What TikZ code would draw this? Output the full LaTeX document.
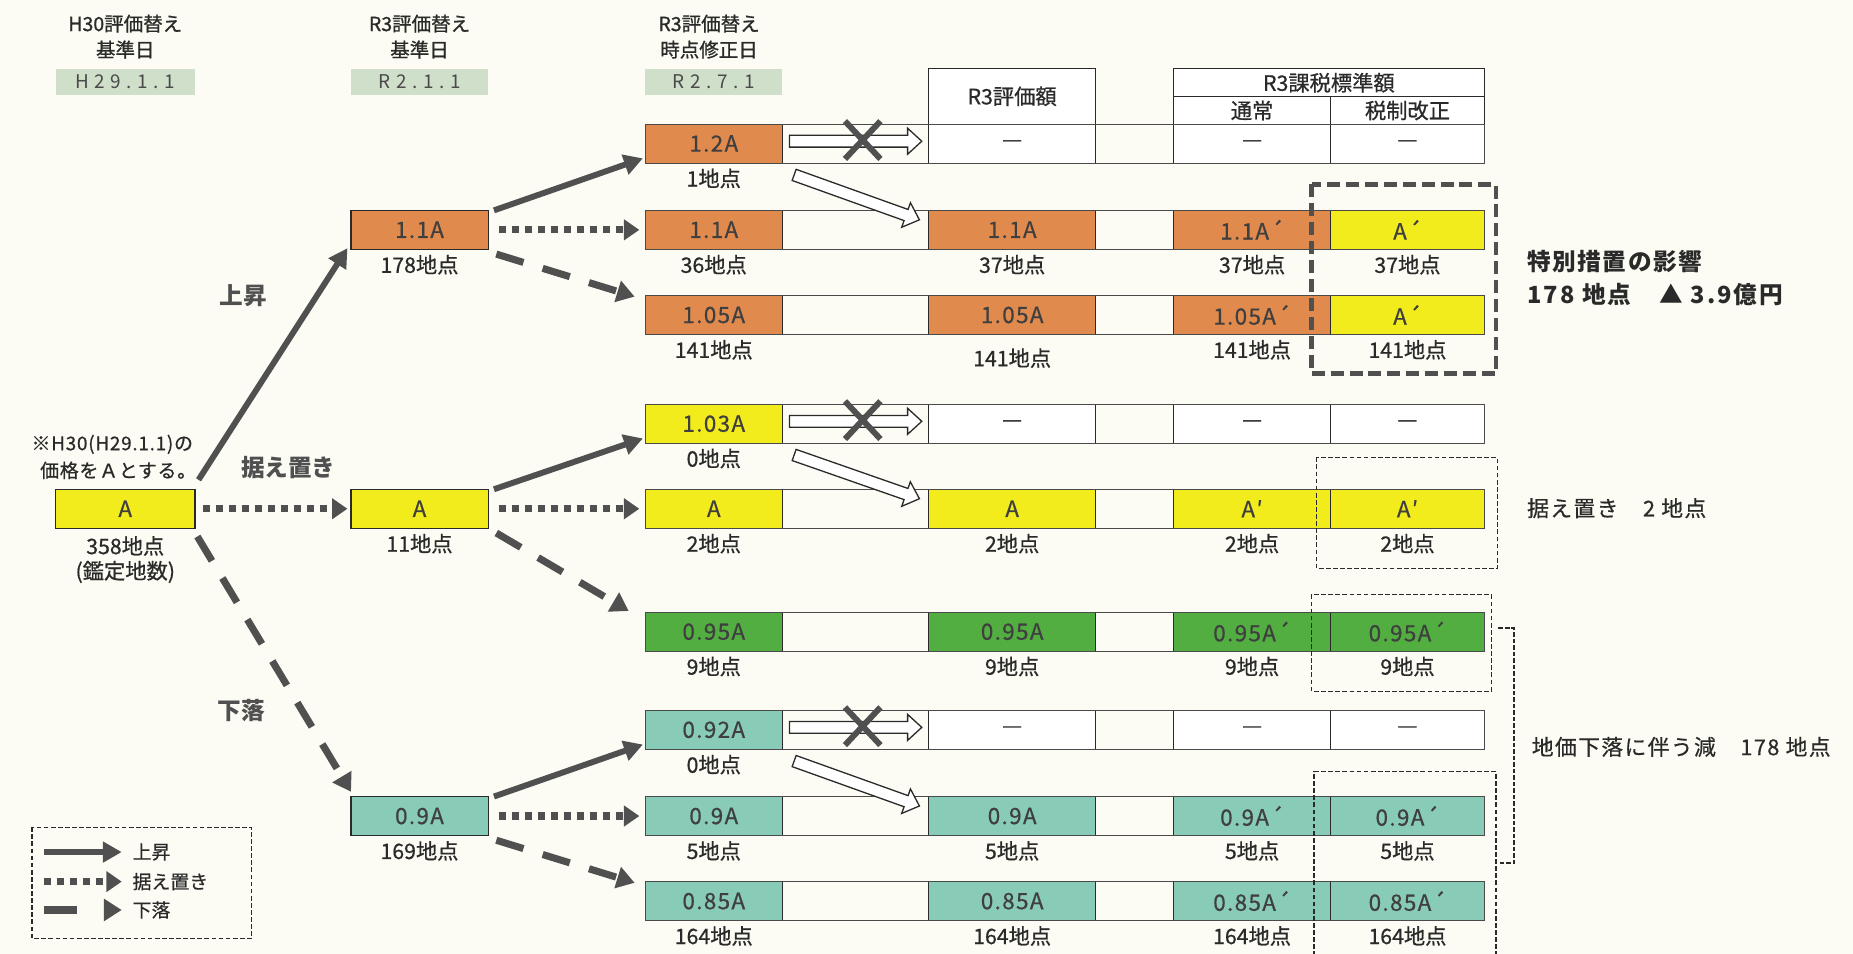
\documentclass[tikz,border=0pt]{standalone}
\usepackage{fontspec}
\setmainfont{Noto Sans CJK JP}
\usetikzlibrary{arrows.meta,calc}
\definecolor{bgc}{HTML}{FCFCF4}
\definecolor{org}{HTML}{E08A4E}
\definecolor{yel}{HTML}{F2EC1C}
\definecolor{grn}{HTML}{52AE41}
\definecolor{tea}{HTML}{88CBB6}
\definecolor{sage}{HTML}{CFDFC9}
\definecolor{arr}{HTML}{505050}
\definecolor{ink}{HTML}{2A2A2A}
\newcommand\fsz[1]{\fontsize{#1}{#1}\selectfont}
\newcommand\cellat[6]{\node[cellbox,fill=#5,minimum width=#4pt,anchor=north west] (#1) at (#2,#3) {#6};}
\newcommand\lblat[3]{\node[lbl] (#1) at ($(#2.south)+(0,13)$) {#3};}
\newcommand\hollowarr[2]{%
  \coordinate (ha-n) at ($(#2)!12pt!(#1)$);
  \draw[hollow] ($(#1)!5pt!90:(#2)$) -- ($(ha-n)!5pt!90:(#2)$) -- ($(ha-n)!11pt!90:(#2)$) -- (#2)
    -- ($(ha-n)!11pt!-90:(#2)$) -- ($(ha-n)!5pt!-90:(#2)$) -- ($(#1)!5pt!-90:(#2)$) -- cycle;}
\begin{document}
\begin{tikzpicture}[x=1pt,y=-1pt,
  cellbox/.style={draw=ink, line width=0.9pt, minimum height=33pt, inner sep=0pt, outer sep=0pt, text=ink!90, font=\fsz{19}\addfontfeature{LetterSpace=6,FakeBold=0.6}},
  lbl/.style={text=ink, font=\fsz{18}\addfontfeature{FakeBold=0.7}, inner sep=0pt},
  hdr/.style={text=ink, font=\fsz{16.5}\addfontfeature{FakeBold=1}, inner sep=0pt},
  datebox/.style={fill=sage, minimum height=22pt, inner sep=0pt, outer sep=0pt, text=ink!85, font=\fsz{16}\addfontfeature{LetterSpace=30}},
  tbl/.style={draw=ink, line width=0.9pt, fill=white, inner sep=0pt, outer sep=0pt, text=ink, font=\fsz{18}\addfontfeature{FakeBold=0.7}},
  strip/.style={draw=ink!85, line width=0.8pt},
  branch/.style={text=arr, font=\fsz{20}\bfseries, inner sep=0pt},
  note/.style={text=ink, anchor=west, inner sep=0pt, font=\fsz{18.5}\addfontfeature{LetterSpace=6,FakeBold=0.5}},
  upar/.style={draw=arr, line width=5pt, -{Triangle[length=16pt,width=17pt]}},
  flatar/.style={draw=arr, line width=6pt, dash pattern=on 6pt off 5pt, -{Triangle[length=13pt,width=17pt]}},
  downar/.style={draw=arr, line width=6pt, dash pattern=on 24pt off 17pt, -{Triangle[length=15pt,width=18pt]}},
  hollow/.style={draw=ink, line width=1.1pt, fill=white, line join=miter},
  xmark/.style={draw=arr, line width=5pt},
  bigdash/.style={draw=arr, line width=4pt, dash pattern=on 11pt off 5pt},
  smalldash/.style={draw=ink, line width=1.1pt, dash pattern=on 4pt off 2pt},
  bracketdash/.style={draw=ink, line width=1.6pt, dash pattern=on 4pt off 1.5pt}
]
\fill[bgc] (0,0) rectangle (1568,807);
\useasboundingbox (0,0) rectangle (1568,807);

% ---------- headers ----------
\node[hdr] (h0a) at (106,20) {H30評価替え};
\node[hdr] (h0b) at (106,42) {基準日};
\node[datebox, minimum width=118pt, anchor=north west] (d0) at (47,58) {H29.1.1};
\node[hdr] (h1a) at (355,20) {R3評価替え};
\node[hdr] (h1b) at (355,42) {基準日};
\node[datebox, minimum width=116pt, anchor=north west] (d1) at (297,58) {R2.1.1};
\node[hdr] (h2a) at (600,20) {R3評価替え};
\node[hdr] (h2b) at (600,42) {時点修正日};
\node[datebox, minimum width=116pt, anchor=north west] (d2) at (546,58) {R2.7.1};

% ---------- table header ----------
\node[tbl, minimum width=141pt, minimum height=47pt, anchor=north west] (th1) at (786,58) {R3評価額};
\node[tbl, minimum width=263pt, minimum height=24pt, anchor=north west] (th2) at (993,58) {R3課税標準額};
\node[tbl, minimum width=133pt, minimum height=23pt, anchor=north west] (th3) at (993,82) {通常};
\node[tbl, minimum width=130pt, minimum height=23pt, anchor=north west] (th4) at (1126,82) {税制改正};

% ---------- left boxes ----------
\cellat{A0}{47}{414}{118}{yel}{A}
\node[lbl] (A0l1) at (106,462) {358地点};
\node[lbl] (A0l2) at (106,484) {(鑑定地数)};
\node[lbl, font=\fsz{16}\addfontfeature{LetterSpace=4,FakeBold=0.7}] (note1) at (95,376) {※H30(H29.1.1)の};
\node[lbl, font=\fsz{16}\addfontfeature{LetterSpace=4,FakeBold=0.7}] (note2) at (100,398) {価格をＡとする。};

\cellat{B1}{297}{178}{116}{org}{1.1A}
\lblat{B1l}{B1}{178地点}
\cellat{A1}{297}{414}{116}{yel}{A}
\lblat{A1l}{A1}{11地点}
\cellat{C1}{297}{674}{116}{tea}{0.9A}
\lblat{C1l}{C1}{169地点}

% ---------- rows ----------
% row 1
\cellat{r1c2}{546}{105}{116}{org}{1.2A}
\cellat{r1c3}{786}{105}{141}{white}{—}
\cellat{r1c4}{993}{105}{133}{white}{—}
\cellat{r1c5}{1126}{105}{130}{white}{—}
\lblat{l1c2}{r1c2}{1地点}
% row 2
\cellat{r2c2}{546}{178}{116}{org}{1.1A}
\cellat{r2c3}{786}{178}{141}{org}{1.1A}
\cellat{r2c4}{993}{178}{133}{org}{1.1A´}
\cellat{r2c5}{1126}{178}{130}{yel}{A´}
\lblat{l2c2}{r2c2}{36地点}
\lblat{l2c3}{r2c3}{37地点}
\lblat{l2c4}{r2c4}{37地点}
\lblat{l2c5}{r2c5}{37地点}
% row 3
\cellat{r3c2}{546}{250}{116}{org}{1.05A}
\cellat{r3c3}{786}{250}{141}{org}{1.05A}
\cellat{r3c4}{993}{250}{133}{org}{1.05A´}
\cellat{r3c5}{1126}{250}{130}{yel}{A´}
\lblat{l3c2}{r3c2}{141地点}
\node[lbl] (l3c3) at ($(r3c3.south)+(0,20)$) {141地点};
\lblat{l3c4}{r3c4}{141地点}
\lblat{l3c5}{r3c5}{141地点}
% row 4
\cellat{r4c2}{546}{342}{116}{yel}{1.03A}
\cellat{r4c3}{786}{342}{141}{white}{—}
\cellat{r4c4}{993}{342}{133}{white}{—}
\cellat{r4c5}{1126}{342}{130}{white}{—}
\lblat{l4c2}{r4c2}{0地点}
% row 5
\cellat{r5c2}{546}{414}{116}{yel}{A}
\cellat{r5c3}{786}{414}{141}{yel}{A}
\cellat{r5c4}{993}{414}{133}{yel}{A′}
\cellat{r5c5}{1126}{414}{130}{yel}{A′}
\lblat{l5c2}{r5c2}{2地点}
\lblat{l5c3}{r5c3}{2地点}
\lblat{l5c4}{r5c4}{2地点}
\lblat{l5c5}{r5c5}{2地点}
% row 6
\cellat{r6c2}{546}{518}{116}{grn}{0.95A}
\cellat{r6c3}{786}{518}{141}{grn}{0.95A}
\cellat{r6c4}{993}{518}{133}{grn}{0.95A´}
\cellat{r6c5}{1126}{518}{130}{grn}{0.95A´}
\lblat{l6c2}{r6c2}{9地点}
\lblat{l6c3}{r6c3}{9地点}
\lblat{l6c4}{r6c4}{9地点}
\lblat{l6c5}{r6c5}{9地点}
% row 7
\cellat{r7c2}{546}{601}{116}{tea}{0.92A}
\cellat{r7c3}{786}{601}{141}{white}{—}
\cellat{r7c4}{993}{601}{133}{white}{—}
\cellat{r7c5}{1126}{601}{130}{white}{—}
\lblat{l7c2}{r7c2}{0地点}
% row 8
\cellat{r8c2}{546}{674}{116}{tea}{0.9A}
\cellat{r8c3}{786}{674}{141}{tea}{0.9A}
\cellat{r8c4}{993}{674}{133}{tea}{0.9A´}
\cellat{r8c5}{1126}{674}{130}{tea}{0.9A´}
\lblat{l8c2}{r8c2}{5地点}
\lblat{l8c3}{r8c3}{5地点}
\lblat{l8c4}{r8c4}{5地点}
\lblat{l8c5}{r8c5}{5地点}
% row 9
\cellat{r9c2}{546}{746}{116}{tea}{0.85A}
\cellat{r9c3}{786}{746}{141}{tea}{0.85A}
\cellat{r9c4}{993}{746}{133}{tea}{0.85A´}
\cellat{r9c5}{1126}{746}{130}{tea}{0.85A´}
\lblat{l9c2}{r9c2}{164地点}
\lblat{l9c3}{r9c3}{164地点}
\lblat{l9c4}{r9c4}{164地点}
\lblat{l9c5}{r9c5}{164地点}

\foreach \r in {1,...,9} {\draw[strip] (r\r c2.north west) rectangle (r\r c5.south east);}

% ---------- branch arrows ----------
\draw[upar] ($(A0.north east)+(3,-8)$) -- ($(B1.south west)+(-3,-1)$);
\draw[flatar] ($(A0.east)+(7,0)$) -- ($(A1.west)+(-3,0)$);
\draw[downar] ($(A0.south east)+(2,7)$) -- ($(C1.north west)+(0,-4)$);

\draw[upar] ($(B1.north east)+(5,0)$) -- ($(r1c2.south west)+(-2,-4)$);
\draw[flatar] ($(B1.east)+(9,0)$) -- ($(r2c2.west)+(-5,0)$);
\draw[downar] ($(B1.south east)+(7,4)$) -- ($(r3c2.north west)+(-9,1)$);

\draw[upar] ($(A1.north east)+(5,0)$) -- ($(r4c2.south west)+(-2,-4)$);
\draw[flatar] ($(A1.east)+(9,0)$) -- ($(r5c2.west)+(-5,0)$);
\draw[downar] ($(A1.south east)+(7,4)$) -- ($(r6c2.north west)+(-14,-1)$);

\draw[upar] ($(C1.north east)+(5,0)$) -- ($(r7c2.south west)+(-2,-4)$);
\draw[flatar] ($(C1.east)+(9,0)$) -- ($(r8c2.west)+(-5,0)$);
\draw[downar] ($(C1.south east)+(7,4)$) -- ($(r9c2.north west)+(-9,1)$);

\node[branch] (bl1) at (206,250) {上昇};
\node[branch] (bl2) at (244,396) {据え置き};
\node[branch] (bl3) at (204,601) {下落};

% ---------- hollow arrows ----------
\foreach \r/\s in {1/2,4/5,7/8} {
  \coordinate (hs\r) at ($(r\r c2.east)+(6,-2)$);
  \coordinate (he\r) at ($(r\r c3.west)+(-6,-2)$);
  \coordinate (ds\r) at ($(r\r c2.south east)+(10,10)$);
  \coordinate (de\r) at ($(r\s c3.north west)+(-8,8)$);
  \hollowarr{hs\r}{he\r}
  \hollowarr{ds\r}{de\r}
  \coordinate (xm\r) at ($(r\r c2.east)!0.5!(r\r c3.west)+(6,-3)$);
  \draw[xmark] ($(xm\r)+(-15,-16)$) -- ($(xm\r)+(15,16)$);
  \draw[xmark] ($(xm\r)+(15,-16)$) -- ($(xm\r)+(-15,16)$);
}

% ---------- dashed groupings ----------
\draw[bigdash] ($(r2c5.north west)+(-16,-22)$) rectangle ($(r3c5.south east)+(10,33)$);
\draw[smalldash] ($(r5c5.north west)+(-12,-27)$) rectangle ($(r5c5.south east)+(11,34)$);
\draw[smalldash] ($(r6c5.north west)+(-16,-15)$) rectangle ($(r6c5.south east)+(6,34)$);
\coordinate (g4a) at ($(r8c5.north west)+(-14,-21)$);
\coordinate (g4b) at ($(r8c5.north east)+(10,-21)$);
\draw[smalldash] (g4a |- 0,815) -- (g4a) -- (g4b) -- (g4b |- 0,815);
\coordinate (brs) at ($(r6c5.east)+(12,-3)$);
\coordinate (bre) at ($(r8c5.east)+(12,40)$);
\draw[bracketdash] (brs) -- ++(13,0) |- (bre);

% ---------- right notes ----------
\node[note, font=\fsz{20}\bfseries\addfontfeature{LetterSpace=7}] (n1) at (1292,221) {特別措置の影響};
\node[note, font=\fsz{20}\bfseries\addfontfeature{LetterSpace=9}] (n2) at (1292,249) {178 地点　▲ 3.9億円};
\node[note] (n3) at (1292,430) {据え置き　2 地点};
\node[note] (n4) at (1296,632) {地価下落に伴う減　178 地点};

% ---------- legend ----------
\draw[smalldash] (27,700) rectangle (213,794);
\coordinate (lg1a) at (37,721); \coordinate (lg1b) at (103,721);
\coordinate (lg2a) at (37,746); \coordinate (lg2b) at (103,746);
\coordinate (lg3a) at (37,770); \coordinate (lg3b) at (103,770);
\draw[upar] (lg1a) -- (lg1b);
\draw[flatar] (lg2a) -- (lg2b);
\draw[downar, dash pattern=on 28pt off 40pt] (lg3a) -- (lg3b);
\node[lbl, anchor=west, font=\fsz{16}\addfontfeature{FakeBold=0.5}] (lt1) at (112,721) {上昇};
\node[lbl, anchor=west, font=\fsz{16}\addfontfeature{FakeBold=0.5}] (lt2) at (112,746) {据え置き};
\node[lbl, anchor=west, font=\fsz{16}\addfontfeature{FakeBold=0.5}] (lt3) at (112,770) {下落};
\end{tikzpicture}
\end{document}
